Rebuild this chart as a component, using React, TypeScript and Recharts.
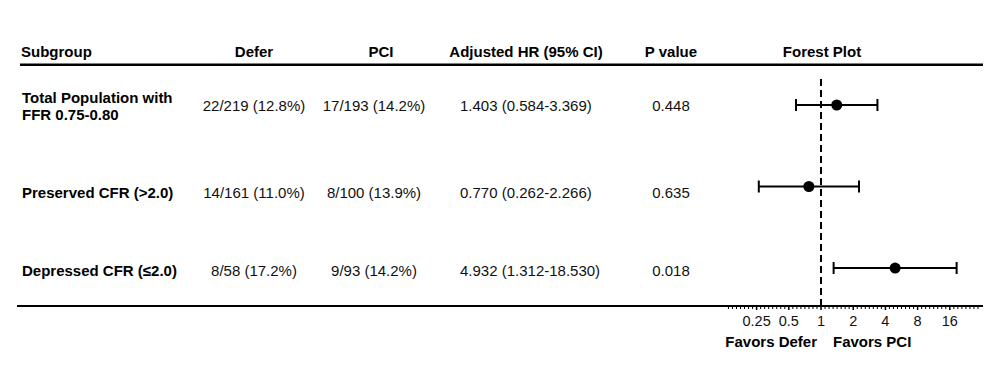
import { ScatterChart, Scatter, XAxis, YAxis, ErrorBar, ReferenceLine } from "recharts";

const subgroups = ["Total Population with|FFR 0.75-0.80", "Preserved CFR (>2.0)", "Depressed CFR (≤2.0)"];
const deferEvents = ["22/219 (12.8%)", "14/161 (11.0%)", "8/58 (17.2%)"];
const pciEvents = ["17/193 (14.2%)", "8/100 (13.9%)", "9/93 (14.2%)"];
const hazardRatio = [1.403, 0.77, 4.932];
const ciLow = [0.584, 0.262, 1.312];
const ciHigh = [3.369, 2.266, 18.53];
const pValues = ["0.448", "0.635", "0.018"];
const axisTicks = [0.25, 0.5, 1, 2, 4, 8, 16];
const headers = ["Subgroup", "Defer", "PCI", "Adjusted HR (95% CI)", "P value", "Forest Plot"];

const W = 997;
const H = 387;
const FONT = "Arial, 'Liberation Sans', sans-serif";

// forest plot works in log2 space
const rows = hazardRatio.map((hr, i) => {
  const lx = Math.log2(hr);
  return {
    row: i,
    lx,
    err: [lx - Math.log2(ciLow[i]), Math.log2(ciHigh[i]) - lx],
  };
});

const majorTicks = axisTicks.map((t) => Math.log2(t));
const xDomain = [-3.106, 5.031];
const minorTicks: number[] = [];
for (let i = -24; i <= 40; i++) {
  if (i % 8 !== 0) minorTicks.push(i / 8);
}
const allTicks = [...minorTicks, ...majorTicks].sort((a, b) => a - b);

const fmt = (v: number) => v.toFixed(3);

const rowBaselines = [111, 198, 276];

const AxisTick = (props: any) => {
  const { x, y, payload } = props;
  const v = payload.value;
  const major = majorTicks.some((m) => Math.abs(m - v) < 1e-9);
  return (
    <g>
      <line
        x1={x}
        x2={x}
        y1={Math.abs(v) < 1e-9 ? y - 6 : y}
        y2={y + (major ? 4 : 3)}
        stroke="#000"
        strokeWidth={major ? 1.5 : 1}
      />
      {major && (
        <text x={x} y={y + 20} textAnchor="middle" fontSize={14.5} fill="#111" fontFamily={FONT}>
          {String(Math.pow(2, v))}
        </text>
      )}
    </g>
  );
};

function Table() {
  const headerX = [21, 254, 381, 526, 671, 822];
  return (
    <svg width={W} height={H} style={{ position: "absolute", left: 0, top: 0 }} fontFamily={FONT}>
      {headers.map((h, i) => (
        <text
          key={h}
          x={headerX[i]}
          y={57}
          fontSize={15}
          fontWeight="bold"
          textAnchor={i === 0 ? "start" : "middle"}
          fill="#000"
        >
          {h}
        </text>
      ))}
      <rect x={20} y={63.5} width={963} height={2.5} fill="#000" />
      {subgroups.map((s, i) => {
        const parts = s.split("|");
        const base = rowBaselines[i];
        return (
          <g key={s}>
            {parts.length > 1 ? (
              <>
                <text x={22} y={103} fontSize={15} fontWeight="bold" fill="#000">{parts[0]}</text>
                <text x={22} y={120} fontSize={15} fontWeight="bold" fill="#000">{parts[1]}</text>
              </>
            ) : (
              <text x={22} y={base} fontSize={15} fontWeight="bold" fill="#000">{s}</text>
            )}
            <text x={254} y={base} fontSize={15} textAnchor="middle" fill="#111">{deferEvents[i]}</text>
            <text x={374} y={base} fontSize={15} textAnchor="middle" fill="#111">{pciEvents[i]}</text>
            <text x={460} y={base} fontSize={15} fill="#111">
              {`${fmt(hazardRatio[i])} (${fmt(ciLow[i])}-${fmt(ciHigh[i])})`}
            </text>
            <text x={671} y={base} fontSize={15} textAnchor="middle" fill="#111">{pValues[i]}</text>
          </g>
        );
      })}
      <rect x={17} y={305} width={706} height={2} fill="#000" />
      <text x={817} y={347} fontSize={15} fontWeight="bold" textAnchor="end" fill="#000">Favors Defer</text>
      <text x={833} y={347} fontSize={15} fontWeight="bold" fill="#000">Favors PCI</text>
    </svg>
  );
}

export default function App() {
  return (
    <div style={{ position: "absolute", left: 0, top: 0, width: W, height: H, background: "#fff" }}>
      <Table />
      <div style={{ position: "absolute", left: 0, top: 0 }}>
        <ScatterChart width={W} height={H} margin={{ top: 77, right: 14, left: 721, bottom: 0 }}>
          <XAxis
            type="number"
            dataKey="lx"
            domain={xDomain}
            allowDataOverflow
            ticks={allTicks}
            interval={0}
            tickSize={0}
            tickMargin={0}
            tickLine={false}
            height={81}
            axisLine={{ stroke: "#000", strokeWidth: 2 }}
            tick={<AxisTick />}
          />
          <YAxis type="number" dataKey="row" domain={[-0.3436, 2.466]} reversed hide allowDataOverflow />
          <ReferenceLine x={0} stroke="#000" strokeWidth={2} strokeDasharray="7 4" />
          <Scatter
            data={rows}
            isAnimationActive={false}
            fill="#000"
            shape={(p: any) => <circle cx={p.cx} cy={p.cy} r={5.5} fill="#000" />}
          >
            <ErrorBar dataKey="err" direction="x" width={6} stroke="#000" strokeWidth={2} />
          </Scatter>
        </ScatterChart>
      </div>
    </div>
  );
}
